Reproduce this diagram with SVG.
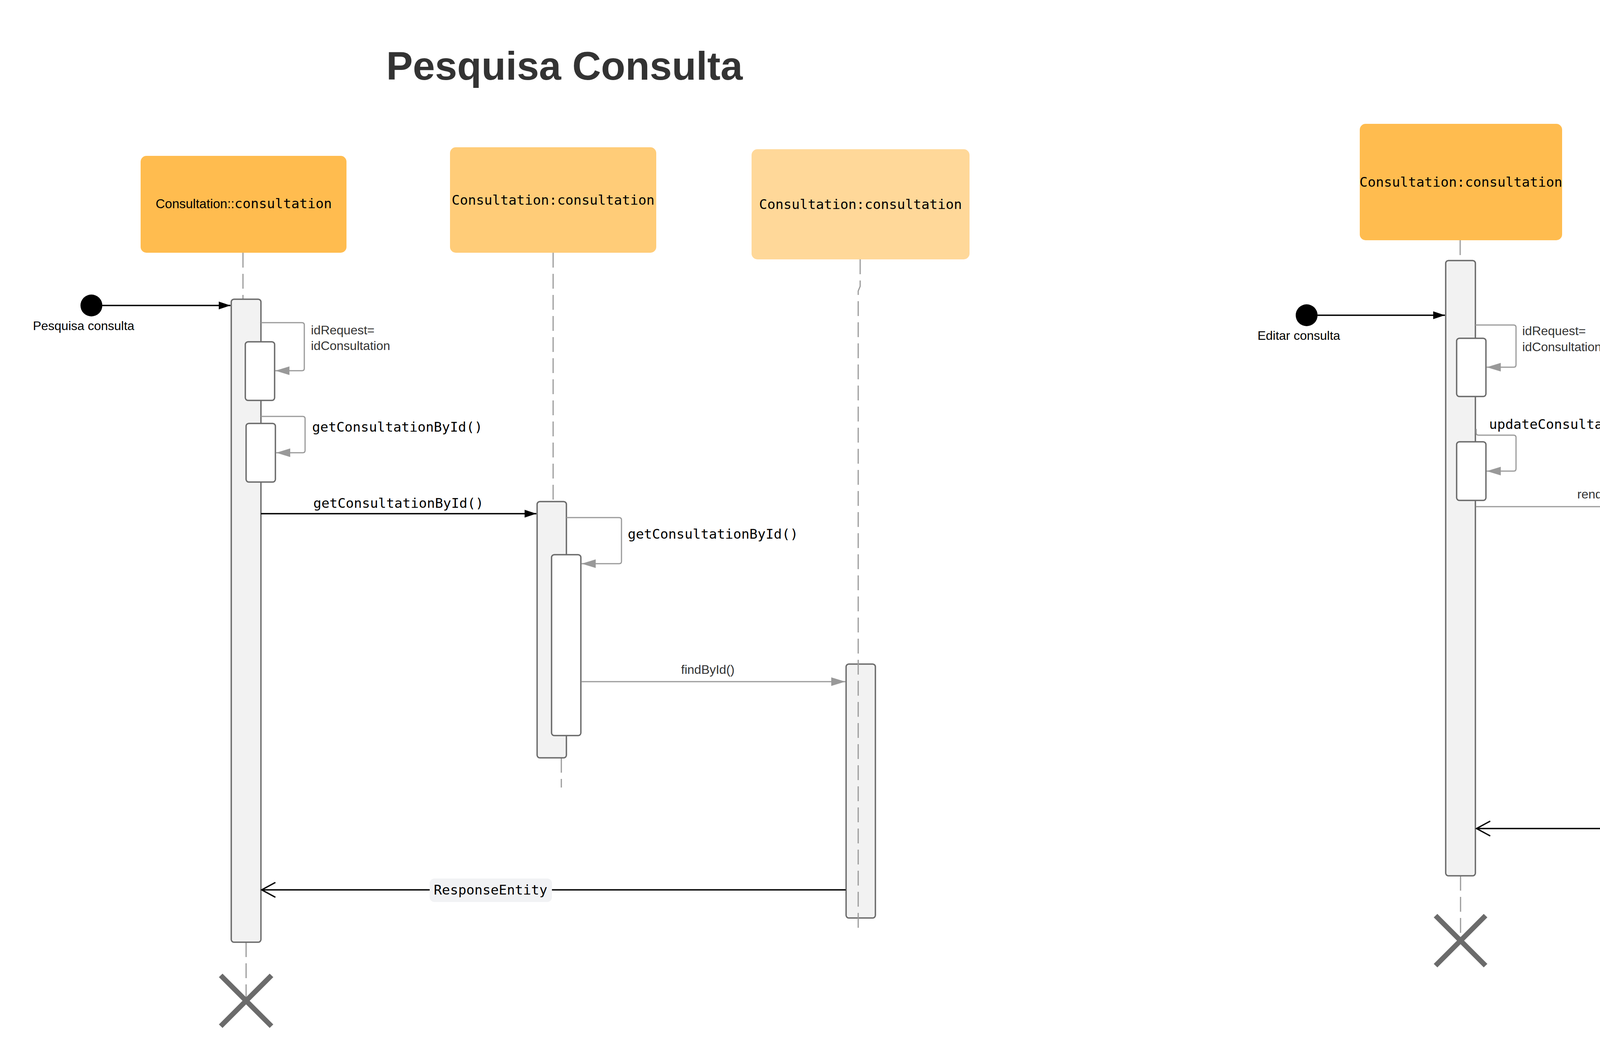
<svg xmlns="http://www.w3.org/2000/svg" width="5700" height="2711" viewBox="0 0 5700 2711">
<style>
.title{font-family:"Liberation Sans",Arial,sans-serif;font-weight:bold;font-size:102px;fill:#333333;text-anchor:middle}
.mono{font-family:"DejaVu Sans Mono","Liberation Mono",monospace;font-size:34.5px;fill:#000000}
.sans{font-family:"Liberation Sans",Arial,sans-serif;font-size:32px;fill:#333333}
.hdr{rx:15px;ry:15px}
.c1{fill:#FFBC4F}.c2{fill:#FFCC78}.c3{fill:#FFD899}
.act{fill:#F2F2F2;stroke:#6B6B6B;stroke-width:3.5}
.nest{fill:#FFFFFF;stroke:#6B6B6B;stroke-width:3.5}
.life{fill:none;stroke:#999999;stroke-width:3;stroke-dasharray:38 16}
.self{fill:none;stroke:#999999;stroke-width:3;marker-end:url(#ag)}
.msg{fill:none;stroke:#000000;stroke-width:3.5;marker-end:url(#ab)}
.gmsg{fill:none;stroke:#999999;stroke-width:3;marker-end:url(#ag)}
.ret{fill:none;stroke:#000000;stroke-width:3.5;marker-end:url(#ao)}
.lbl{fill:#F1F2F4}
.x{stroke:#6B6B6B;stroke-width:13}
</style>
<defs>
<marker id="ab" markerUnits="userSpaceOnUse" markerWidth="30" markerHeight="20" refX="30" refY="10" orient="auto"><path d="M0,0 L30,10 L0,20 z" fill="#000000"/></marker>
<marker id="ag" markerUnits="userSpaceOnUse" markerWidth="36" markerHeight="22" refX="36" refY="11" orient="auto"><path d="M0,0 L36,11 L0,22 z" fill="#999999"/></marker>
<marker id="ao" markerUnits="userSpaceOnUse" markerWidth="40" markerHeight="44" refX="36" refY="21" orient="auto" overflow="visible"><path d="M1,2 L36,21 L1,40" fill="none" stroke="#000000" stroke-width="3.5"/></marker>
</defs>
<rect width="5700" height="2711" fill="#FFFFFF"/>

<text class="title" x="1445" y="204">Pesquisa Consulta</text>
<text class="title" x="4525" y="204">Editar Consulta</text>

<g id="lifelines">
<path class="life" d="M622 647 V765"/>
<path class="life" d="M630 2412 V2553"/>
<path class="life" d="M1416 647 V1284"/>
<path class="life" d="M1437 1940 V2016"/>
<path class="life" d="M3738 615 V668"/>
<path class="life" d="M3739 2242 V2400"/>
<path class="life" d="M4523 629 V1278"/>
<path class="life" d="M4523 1940 V2015"/>
<path class="life" d="M5304 615 V1791"/>
<path class="life" d="M5304 2442 V2539"/>
</g>

<g id="L1">
<rect class="hdr c1" x="360" y="399" width="527" height="248"/>
<text x="624" y="533" text-anchor="middle"><tspan class="sans" style="fill:#000;font-size:33px">Consultation::</tspan><tspan class="mono">consultation</tspan></text>
</g>
<g id="L2">
<rect class="hdr c2" x="1152" y="377" width="528" height="270"/>
<text class="mono" x="1416" y="524" text-anchor="middle">Consultation:consultation</text>
</g>
<g id="L3">
<rect class="hdr c3" x="1924" y="382" width="558" height="282"/>
<text class="mono" x="2203" y="535" text-anchor="middle">Consultation:consultation</text>
</g>
<g id="R1">
<rect class="hdr c1" x="3481" y="317" width="518" height="298"/>
<text class="mono" x="3740" y="478" text-anchor="middle">Consultation:consultation</text>
</g>
<g id="R2">
<rect class="hdr c2" x="4256" y="331" width="534" height="298"/>
<text class="mono" x="4523" y="492" text-anchor="middle">Consultation:consultation</text>
</g>
<g id="R3">
<rect class="hdr c3" x="5035" y="317" width="536" height="298"/>
<text class="mono" x="5303" y="478" text-anchor="middle">Consultation:consultation</text>
</g>

<g id="L-start">
<circle cx="234" cy="782" r="28" fill="#000000"/>
<text class="sans" x="214" y="845" text-anchor="middle" style="fill:#000">Pesquisa consulta</text>
</g>
<g id="R-start">
<circle cx="3345" cy="807" r="28" fill="#000000"/>
<text class="sans" x="3325" y="870" text-anchor="middle" style="fill:#000">Editar consulta</text>
</g>

<g id="L-act1">
<rect class="act" x="592" y="766" width="76" height="1646" rx="7"/>
<rect class="nest" x="628" y="875" width="75" height="150" rx="7"/>
<rect class="nest" x="630" y="1084" width="75" height="150" rx="7"/>
</g>
<g id="L-act2">
<rect class="act" x="1375" y="1284" width="75" height="656" rx="7"/>
<rect class="nest" x="1412" y="1420" width="75" height="463" rx="7"/>
</g>
<g id="L-act3">
<rect class="act" x="2166" y="1700" width="75" height="650" rx="7"/>
<path class="life" d="M2202 664 V733 L2197 745 V2375"/>
</g>
<g id="L-end">
<path class="x" d="M565 2497 L695 2627 M695 2497 L565 2627"/>
</g>

<g id="R-act1">
<rect class="act" x="3701" y="667" width="76" height="1575" rx="7"/>
<rect class="nest" x="3729" y="866" width="75" height="149" rx="7"/>
<rect class="nest" x="3729" y="1131" width="75" height="150" rx="7"/>
</g>
<g id="R-act2">
<rect class="act" x="4489" y="1277" width="75" height="663" rx="7"/>
<rect class="nest" x="4526" y="1420" width="75" height="483" rx="7"/>
</g>
<g id="R-act3">
<rect class="act" x="5266" y="1791" width="77" height="651" rx="7"/>
<rect class="nest" x="5314" y="1905" width="74" height="149" rx="7"/>
</g>
<g id="R-end">
<path class="x" d="M3675 2344 L3803 2472 M3803 2344 L3675 2472"/>
</g>

<g id="connectors">
<path class="msg" d="M262 782 H590"/>
<path class="self" d="M668 826 H773 Q779 826 779 832 V943 Q779 949 773 949 H705"/>
<path class="self" d="M668 1066 H775 Q781 1066 781 1072 V1153 Q781 1159 775 1159 H707"/>
<path class="msg" d="M668 1315 H1373"/>
<path class="self" d="M1450 1325 H1585 Q1591 1325 1591 1331 V1437 Q1591 1443 1585 1443 H1489"/>
<path class="gmsg" d="M1488 1745 H2164"/>
<path class="ret" d="M2165 2278 H670"/>

<path class="msg" d="M3373 807 H3699"/>
<path class="self" d="M3777 832 H3875 Q3881 832 3881 838 V934 Q3881 940 3875 940 H3806"/>
<path class="self" d="M3779 1098 V1108 Q3779 1114 3785 1114 H3875 Q3881 1114 3881 1120 V1200 Q3881 1206 3875 1206 H3806"/>
<path class="gmsg" d="M3779 1297 H4486"/>
<path class="self" d="M4564 1354 H4672 Q4678 1354 4678 1360 V1485 Q4678 1491 4672 1491 H4603"/>
<path class="gmsg" d="M4603 1854 H5265"/>
<path class="self" d="M5343 1876 H5459 Q5465 1876 5465 1882 V1974 Q5465 1980 5459 1980 H5390"/>
<path class="ret" d="M5266 2121 H3780"/>
</g>

<g id="labels">
<text class="sans" x="796" y="856">idRequest=</text>
<text class="sans" x="796" y="896">idConsultation</text>
<text class="mono" x="799" y="1105">getConsultationById()</text>
<text class="mono" x="1020" y="1300" text-anchor="middle">getConsultationById()</text>
<text class="mono" x="1607" y="1379">getConsultationById()</text>
<text class="sans" x="1812" y="1725" text-anchor="middle">findById()</text>
<rect class="lbl" x="1100" y="2249" width="313" height="60" rx="12"/>
<text class="mono" x="1256" y="2290" text-anchor="middle">ResponseEntity</text>

<text class="sans" x="3897" y="858">idRequest=</text>
<text class="sans" x="3897" y="899">idConsultation</text>
<text class="mono" x="3812" y="1098">updateConsultation()</text>
<text class="sans" x="4132" y="1276" text-anchor="middle">renderForm()</text>
<text class="mono" x="4695" y="1416">saveConsultation()</text>
<text class="mono" x="4738" y="1837">saveConsultation()</text>
<text class="mono" x="5482" y="1913">save()</text>
<rect class="lbl" x="4230" y="2091" width="313" height="59" rx="12"/>
<text class="mono" x="4386" y="2133" text-anchor="middle">ResponseEntity</text>
</g>
</svg>
